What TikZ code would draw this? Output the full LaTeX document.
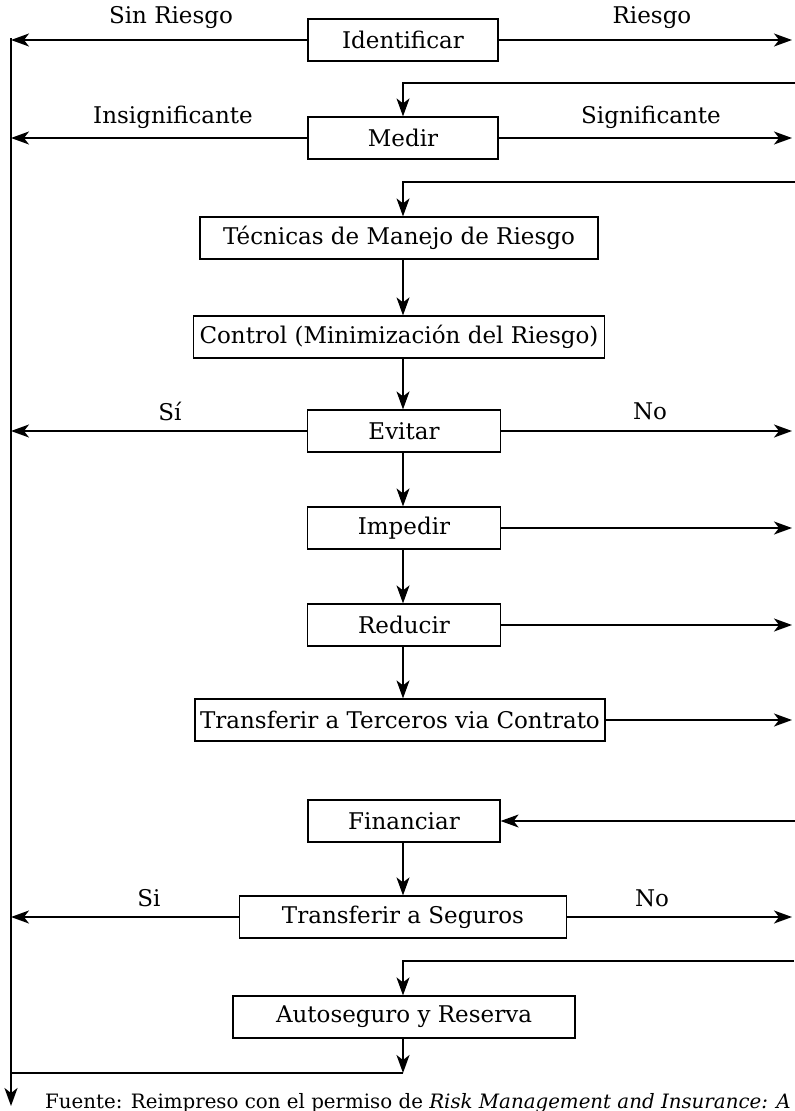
\documentclass[tikz,border=0pt]{standalone}
\usepackage{fontspec}
\setmainfont{DejaVu Serif}
\usetikzlibrary{arrows.meta}
\begin{document}
\begin{tikzpicture}[x=1pt,y=-1pt,
  box/.style={draw, line width=1.2pt, inner sep=0pt, minimum height=42pt,
    font=\fontsize{23}{26}\selectfont},
  lbl/.style={inner sep=0pt, font=\fontsize{23}{26}\selectfont},
  conn/.style={line width=1.5pt},
  tip/.style={-{Stealth[length=18pt,width=13pt,inset=5pt]}},
  arr/.style={conn, tip},
  spine/.style={line width=2pt, tip}]
\useasboundingbox (0,0) rectangle (795,1111);
\clip (0,0) rectangle (795,1111);

% boxes of the flow
\node[box, minimum width=190pt] (ident) at (403,40) {Identificar};
\node[box, minimum width=190pt] (medir) at (403,138) {Medir};
\node[box, minimum width=398pt] (tecn) at (399,238) {Técnicas de Manejo de Riesgo};
\node[box, minimum width=411pt] (ctrl) at (399,337) {Control (Minimización del Riesgo)};
\node[box, minimum width=193pt] (evitar) at (404,431) {Evitar};
\node[box, minimum width=193pt] (impedir) at (404,528) {Impedir};
\node[box, minimum width=193pt] (reducir) at (404,625) {Reducir};
\node[box, minimum width=410pt] (transf) at (400,720) {Transferir a Terceros via Contrato};
\node[box, minimum width=192pt] (financ) at (404,821) {Financiar};
\node[box, minimum width=327pt] (seguros) at (403,917) {Transferir a Seguros};
\node[box, minimum width=342pt] (auto) at (404,1017) {Autoseguro y Reserva};

% reference points at the edges
\coordinate (L) at (11,0);
\coordinate (R) at (792,0);
\coordinate (Redge) at (795,0);
\coordinate (X) at (403,0);
\coordinate (spineTop) at (11,38);
\coordinate (spineEnd) at (11,1106);
\coordinate (back1) at (795,83);
\coordinate (back2) at (795,182);
\coordinate (back3) at (794,961);
\coordinate (join) at (403,1073);

% left collector line
\draw[spine] (spineTop) -- (spineEnd);

% exits to the left
\draw[arr] (ident.west) -- (ident.west -| L);
\draw[arr] (medir.west) -- (medir.west -| L);
\draw[arr] (evitar.west) -- (evitar.west -| L);
\draw[arr] (seguros.west) -- (seguros.west -| L);

% exits to the right
\draw[arr] (ident.east) -- (ident.east -| R);
\draw[arr] (medir.east) -- (medir.east -| R);
\draw[arr] (evitar.east) -- (evitar.east -| R);
\draw[arr] (impedir.east) -- (impedir.east -| R);
\draw[arr] (reducir.east) -- (reducir.east -| R);
\draw[arr] (transf.east) -- (transf.east -| R);
\draw[arr] (seguros.east) -- (seguros.east -| R);

% returns from the right
\draw[arr] (back1) -- (back1 -| X) -- (medir.north -| X);
\draw[arr] (back2) -- (back2 -| X) -- (tecn.north -| X);
\draw[arr] (financ.east -| Redge) -- (financ.east);
\draw[arr] (back3) -- (back3 -| X) -- (auto.north -| X);

% downward steps
\draw[arr] (tecn.south -| X) -- (ctrl.north -| X);
\draw[arr] (ctrl.south -| X) -- (evitar.north -| X);
\draw[arr] (evitar.south -| X) -- (impedir.north -| X);
\draw[arr] (impedir.south -| X) -- (reducir.north -| X);
\draw[arr] (reducir.south -| X) -- (transf.north -| X);
\draw[arr] (financ.south -| X) -- (seguros.north -| X);
\draw[arr] (auto.south -| X) -- (join);
\draw[conn] (join) -- (join -| L);

% branch labels
\node[lbl] (lSin) at (171,18) {Sin Riesgo};
\node[lbl] (lRie) at (652,18) {Riesgo};
\node[lbl] (lIns) at (173,117) {Insignificante};
\node[lbl] (lSig) at (651,117) {Significante};
\node[lbl] (lSi1) at (170,411) {Sí};
\node[lbl] (lNo1) at (650,411) {No};
\node[lbl] (lSi2) at (149,898) {Si};
\node[lbl] (lNo2) at (652,898) {No};

% source note
\node[anchor=base west, inner sep=0pt, font=\fontsize{19.8}{22}\selectfont] (src) at (45,1108)
  {Fuente: Reimpreso con el permiso de \textit{Risk Management and Insurance: A}};
\end{tikzpicture}
\end{document}
